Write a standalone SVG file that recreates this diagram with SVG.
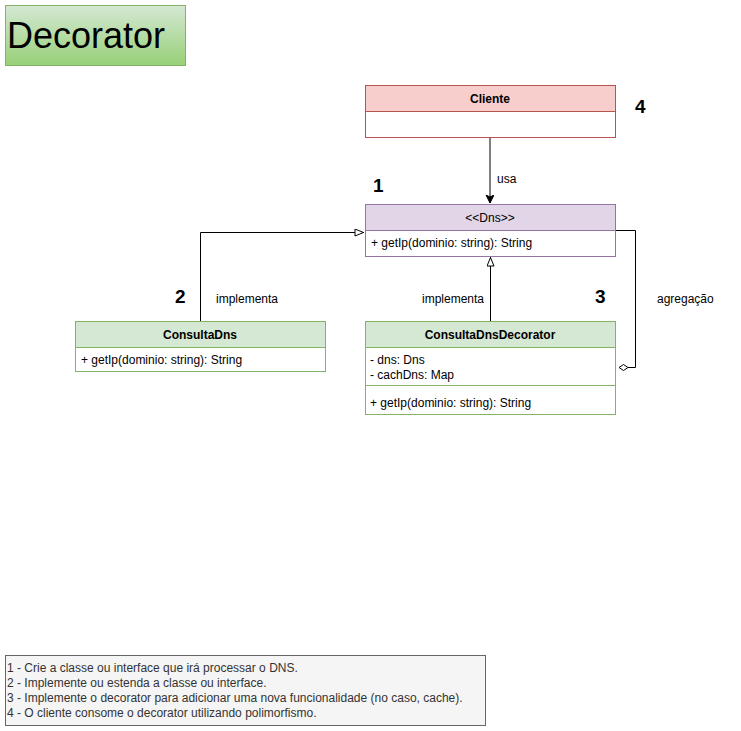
<svg xmlns="http://www.w3.org/2000/svg" width="741" height="731" viewBox="0 0 741 731">
<defs>
<linearGradient id="gt" x1="0" y1="0" x2="0" y2="1"><stop offset="0" stop-color="#d5e8d4"/><stop offset="1" stop-color="#97d077"/></linearGradient>
<marker id="tri" markerWidth="12" markerHeight="10" refX="10" refY="4" orient="auto" markerUnits="userSpaceOnUse"><path d="M1,0.5 L9.5,4 L1,7.5 Z" fill="#fff" stroke="#000" stroke-width="1"/></marker>
<marker id="arr" markerWidth="10" markerHeight="10" refX="8" refY="4" orient="auto" markerUnits="userSpaceOnUse"><path d="M0,0 L8,4 L0,8 L2,4 Z" fill="#000" stroke="#000" stroke-width="1"/></marker>
</defs>
<style>
text{font-family:"Liberation Sans",Arial,sans-serif;font-size:12px;fill:#000}
.h{font-weight:bold;text-anchor:middle}
.n{font-weight:bold;font-size:19px}
.ln{fill:none;stroke:#000;stroke-width:1}
.red{fill:#f8cecc;stroke:#b85450}
.pur{fill:#e1d5e7;stroke:#9673a6}
.grn{fill:#d5e8d4;stroke:#82b366}
.wr{fill:#fff;stroke:#b85450}
.wp{fill:#fff;stroke:#9673a6}
.wg{fill:#fff;stroke:#82b366}
.nt{fill:#333}
</style>
<rect width="741" height="731" fill="#fff"/>
<g id="title">
<rect x="5.5" y="5.5" width="180" height="60" fill="url(#gt)" stroke="#82b366"/>
<text x="7" y="48" style="font-size:36px">Decorator</text>
</g>
<g id="connectors">
<line class="ln" x1="490" y1="137" x2="490" y2="203" marker-end="url(#arr)"/>
<text x="497" y="183">usa</text>
<path class="ln" d="M200.5,321 L200.5,232.5 L364,232.5" marker-end="url(#tri)"/>
<text x="216" y="303">implementa</text>
<line class="ln" x1="490.5" y1="321" x2="490.5" y2="257" marker-end="url(#tri)"/>
<text x="422" y="303">implementa</text>
<path class="ln" d="M616,230.5 L635.5,230.5 L635.5,367.5 L628,367.5"/>
<path d="M619,367.5 L623.5,364.5 L628,367.5 L623.5,370.5 Z" fill="#fff" stroke="#000"/>
<text x="657" y="303">agregação</text>
</g>
<g id="cliente">
<rect x="365.5" y="85.5" width="250" height="52" class="wr"/>
<rect x="365.5" y="85.5" width="250" height="26" class="red"/>
<text x="490" y="103" class="h">Cliente</text>
</g>
<text x="635" y="113" class="n">4</text>
<g id="dns">
<rect x="365.5" y="204.5" width="250" height="52" class="wp"/>
<rect x="365.5" y="204.5" width="250" height="26" class="pur"/>
<text x="490" y="222" class="h" style="font-weight:normal">&lt;&lt;Dns&gt;&gt;</text>
<text x="371" y="247">+ getIp(dominio: string): String</text>
</g>
<text x="373" y="192" class="n">1</text>
<g id="consultaDns">
<rect x="75.5" y="321.5" width="250" height="50" class="wg"/>
<rect x="75.5" y="321.5" width="250" height="26" class="grn"/>
<text x="200" y="339" class="h">ConsultaDns</text>
<text x="81" y="364">+ getIp(dominio: string): String</text>
</g>
<text x="175" y="303" class="n">2</text>
<g id="consultaDnsDecorator">
<rect x="365.5" y="321.5" width="250" height="93" class="wg"/>
<rect x="365.5" y="321.5" width="250" height="26" class="grn"/>
<text x="490" y="339" class="h">ConsultaDnsDecorator</text>
<text x="370" y="364">- dns: Dns</text>
<text x="370" y="379">- cachDns: Map</text>
<line x1="365.5" y1="385.5" x2="615.5" y2="385.5" stroke="#82b366"/>
<text x="370" y="407">+ getIp(dominio: string): String</text>
</g>
<text x="595" y="303" class="n">3</text>
<g id="notes">
<rect x="5.5" y="655.5" width="480" height="70" fill="#f5f5f5" stroke="#666666"/>
<text x="7" y="672" class="nt">1 - Crie a classe ou interface que irá processar o DNS.</text>
<text x="7" y="687" class="nt">2 - Implemente ou estenda a classe ou interface.</text>
<text x="7" y="702" class="nt">3 - Implemente o decorator para adicionar uma nova funcionalidade (no caso, cache).</text>
<text x="7" y="717" class="nt">4 - O cliente consome o decorator utilizando polimorfismo.</text>
</g>
</svg>
